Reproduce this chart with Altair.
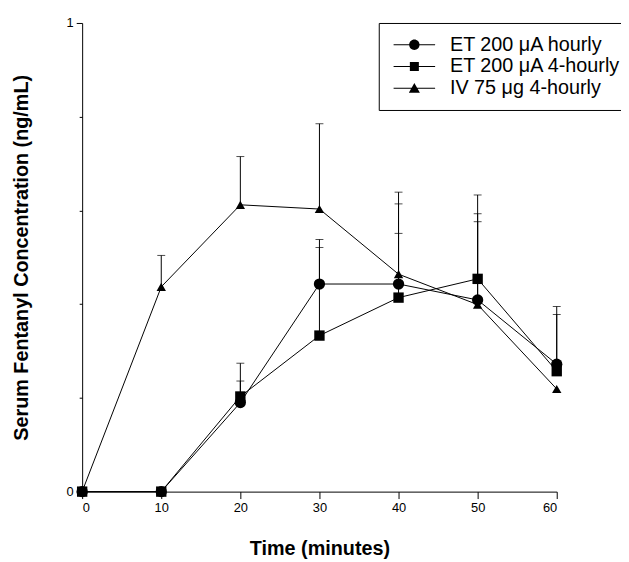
import altair as alt
import pandas as pd

time = [0, 10, 20, 30, 40, 50, 60]
series_names = ["ET 200 \u03bcA hourly", "ET 200 \u03bcA 4-hourly", "IV 75 \u03bcg 4-hourly"]
et_hourly = [0.0, 0.0, 0.19, 0.443, 0.443, 0.409, 0.272]
et_4hourly = [0.0, 0.0, 0.203, 0.333, 0.414, 0.454, 0.257]
iv_4hourly = [0.0, 0.437, 0.612, 0.603, 0.464, 0.399, 0.219]
# upper ends of the error bars (None = no visible bar)
et_hourly_upper = [None, None, 0.274, 0.538, 0.614, 0.593, 0.395]
et_4hourly_upper = [None, None, 0.236, 0.521, 0.551, 0.633, 0.378]
iv_4hourly_upper = [None, 0.504, 0.715, 0.785, 0.639, 0.576, None]

rows = []
for name, vals, ups in zip(series_names,
                           [et_hourly, et_4hourly, iv_4hourly],
                           [et_hourly_upper, et_4hourly_upper, iv_4hourly_upper]):
    for t, v, u in zip(time, vals, ups):
        rows.append({"time": t, "conc": v, "upper": u, "series": name})
df = pd.DataFrame(rows)
err = df.dropna(subset=["upper"])

FONT = "Liberation Sans"
x_enc = alt.X("time:Q", scale=alt.Scale(domain=[0, 60], nice=False),
              axis=alt.Axis(title="Time (minutes)",
                            values=list(range(0, 61, 5)),
                            labelExpr="datum.value % 10 == 0 ? datum.label : ''",
                            tickSize={"condition": {"test": "datum.value % 10 == 0", "value": 7}, "value": 4},
                            labelFontSize=13, labelPadding=3,
                            titleFontSize=20, titleFontWeight="bold", titlePadding=25))
y_enc = alt.Y("conc:Q", scale=alt.Scale(domain=[0, 1], nice=False),
              axis=alt.Axis(title="Serum Fentanyl Concentration (ng/mL)",
                            values=[0, 0.2, 0.4, 0.6, 0.8, 1.0],
                            labelExpr="datum.value == 0 || datum.value == 1 ? format(datum.value, 'd') : ''",
                            tickSize={"condition": {"test": "datum.value == 0 || datum.value == 1", "value": 6}, "value": 3},
                            labelFontSize=13, labelPadding=3,
                            titleFontSize=20, titleFontWeight="bold", titlePadding=35))

lines = alt.Chart(df).mark_line(color="black", strokeWidth=1).encode(
    x=x_enc, y=y_enc, detail="series:N")

rules = alt.Chart(err).mark_rule(color="black", strokeWidth=1).encode(
    x="time:Q", y="conc:Q", y2="upper:Q")
caps = alt.Chart(err).mark_tick(color="black", orient="horizontal", size=8, thickness=1).encode(
    x="time:Q", y="upper:Q")

points = alt.Chart(df).mark_point(filled=True, color="black", opacity=1).encode(
    x="time:Q", y="conc:Q",
    shape=alt.Shape("series:N", scale=alt.Scale(domain=series_names,
                                               range=["circle", "square", "triangle-up"]), legend=None),
    size=alt.Size("series:N", scale=alt.Scale(domain=series_names, range=[130, 90, 130]), legend=None))

# legend symbol: a thin bar (the line) with the marker in its middle (unit = 7 px)
legend_paths = [
    "M-3,-0.08H3V0.08H-3ZM0.75,0A0.75,0.75,0,1,1,-0.75,0A0.75,0.75,0,1,1,0.75,0Z",
    "M-3,-0.08H3V0.08H-3ZM-0.65,-0.65H0.65V0.65H-0.65Z",
    "M-3,-0.08H3V0.08H-3ZM0,-0.75L0.8,0.65H-0.8Z",
]
legend_layer = alt.Chart(df).transform_filter("false").mark_point(
    filled=True, fill="black", opacity=1).encode(
    x="time:Q", y="conc:Q",
    shape=alt.Shape("series:N", scale=alt.Scale(domain=series_names, range=legend_paths),
                    legend=alt.Legend(title=None, orient="none", legendX=300, legendY=0,
                                      padding=12, strokeColor="black", fillColor="white",
                                      labelFontSize=20, labelFont=FONT, labelColor="black",
                                      symbolSize=196, symbolStrokeWidth=0, symbolOffset=14,
                                      symbolFillColor="black",
                                      symbolOpacity=1, labelOffset=26, rowPadding=2)))

chart = alt.layer(lines, rules, caps, points, legend_layer).resolve_scale(
    shape="independent", size="independent"
).properties(
    width=480, height=474,
    padding={"left": 75, "top": 12, "right": 65, "bottom": 66},
    autosize=alt.AutoSizeParams(type="none"),
).configure_view(stroke=None).configure_axis(
    grid=False, domainColor="black", tickColor="black", labelColor="black",
    titleColor="black", labelFont=FONT, titleFont=FONT, domainWidth=1, tickWidth=1
).configure_legend(labelLimit=400)

chart.save("out.html", embed_options={"renderer": "svg", "actions": False})
